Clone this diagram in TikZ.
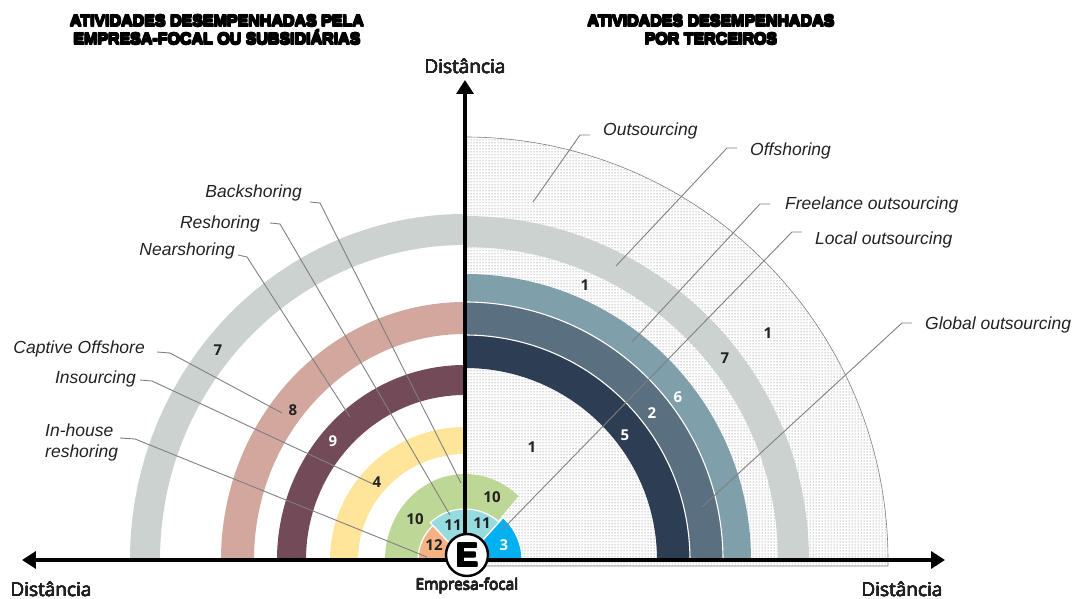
\documentclass[tikz,border=0pt]{standalone}
\usepackage{fontspec}
\setmainfont{Liberation Sans}
\newfontfamily\numfont{Open Sans}
\usetikzlibrary{arrows.meta,patterns}

\definecolor{cGray}{RGB}{204,210,207}
\definecolor{cRose}{RGB}{210,167,157}
\definecolor{cPlum}{RGB}{115,74,87}
\definecolor{cYellow}{RGB}{255,229,153}
\definecolor{cGreen}{RGB}{189,215,151}
\definecolor{cCyan}{RGB}{151,219,222}
\definecolor{cOrange}{RGB}{244,177,131}
\definecolor{cBlue}{RGB}{0,176,240}
\definecolor{cNavy}{RGB}{45,62,84}
\definecolor{cSlate}{RGB}{90,111,127}
\definecolor{cSteel}{RGB}{127,159,170}
\definecolor{cLead}{RGB}{128,128,128}
\definecolor{cText}{RGB}{34,34,34}

% heavier strokes: overlay shifted copies of the text
\newcommand\heavy[2]{\leavevmode
  \rlap{\kern#1\relax#2}\rlap{\kern-#1\relax#2}%
  \rlap{\raisebox{#1}{#2}}\rlap{\raisebox{-#1}{#2}}%
  \rlap{\kern#1\relax\raisebox{#1}{#2}}\rlap{\kern-#1\relax\raisebox{-#1}{#2}}%
  \rlap{\kern#1\relax\raisebox{-#1}{#2}}\rlap{\kern-#1\relax\raisebox{#1}{#2}}#2}

% band: colour, start angle, end angle, inner x/y radius, outer x/y radius
\newcommand\band[7]{%
  \fill[#1] (#2:#6 and #7) arc[start angle=#2, end angle=#3, x radius=#6, y radius=#7]
    -- (#3:#4 and #5) arc[start angle=#3, end angle=#2, x radius=#4, y radius=#5] -- cycle;}

\begin{document}
\begin{tikzpicture}[x=1pt,y=1pt,
  tag/.style={font=\numfont\bfseries\fontsize{15}{15}\selectfont, text=cText, inner sep=0},
  tagw/.style={tag, text=white},
  lbl/.style={font=\itshape\fontsize{17.5}{21}\selectfont, text=cText, inner sep=0},
  leader/.style={draw=cLead, line width=0.9pt},
  axis/.style={line width=4.3pt, -{Triangle[length=14pt,width=17pt]}},
  sector/.style={draw=white, line width=1.2pt},
  title/.style={font=\bfseries\fontsize{16}{18}\selectfont, align=center, inner sep=0},
  dist/.style={font=\numfont\fontsize{19}{22}\selectfont, text=cText, inner sep=0}]
\useasboundingbox (-465,-39) rectangle (615,560);

% dotted quarter disc of third-party activities
\path[pattern=dots, pattern color=black!60] (0,-6) -- (423,-6) -- (423,0)
  arc[start angle=0, end angle=90, radius=423] -- cycle;
\draw[gray, line width=0.6pt] (0,423) arc[start angle=90, end angle=0, radius=423] -- (423,-6) -- (0,-6);

% right-hand bands
\band{cGray}{0}{90}{313}{313}{344}{344}
\band{cNavy}{0}{90}{192}{192}{225}{225}
\band{cSlate}{0}{90}{225}{225}{258}{258}
\band{cSteel}{0}{90}{258}{258}{286}{286}
\draw[white, line width=1.1pt] (225,0) arc[start angle=0, end angle=90, radius=225];
\draw[white, line width=1.1pt] (258,0) arc[start angle=0, end angle=90, radius=258];

% left-hand bands
\band{cGray}{90}{180}{305}{315}{335}{346}
\band{cRose}{90}{180}{211}{226}{244}{258}
\band{cPlum}{90}{180}{159}{165}{188}{195}
\band{cYellow}{90}{180}{107}{106}{135}{133}

% inner sectors around the focal company
\fill[cGreen] (0,0) -- (48:80 and 86) arc[start angle=48, end angle=180, x radius=80, y radius=86] -- cycle;
\filldraw[sector, fill=cCyan] (0,0) -- (48:51) arc[start angle=48, end angle=133, radius=51] -- cycle;
\filldraw[sector, fill=cOrange] (0,0) -- (133:47) arc[start angle=133, end angle=180, radius=47] -- cycle;
\filldraw[sector, fill=cBlue] (0,0) -- (0:57) arc[start angle=0, end angle=48, radius=57] -- cycle;

% band numbers
\node[tag] (n1a) at (120,275) {1};
\node[tag] (n1b) at (303,227) {1};
\node[tag] (n1c) at (67,113) {1};
\node[tag] (n7r) at (260,202) {7};
\node[tagw] (n6) at (213,163) {6};
\node[tagw] (n2) at (187,147) {2};
\node[tagw] (n5) at (160,125) {5};
\node[tag] (n7l) at (-247,210) {7};
\node[tag] (n8) at (-172,150) {8};
\node[tagw] (n9) at (-132,119) {9};
\node[tag] (n4) at (-88,78) {4};
\node[tag] (n10l) at (-50,41) {10};
\node[tag] (n10r) at (27,63) {10};
\node[tag] (n11l) at (-12,35) {11};
\node[tag] (n11r) at (17,37) {11};
\node[tag] (n12) at (-31,15) {12};
\node[tagw] (n3) at (39,15) {3};

% right-hand labels
\node[lbl, anchor=west] (lOut) at (138,429) {Outsourcing};
\node[lbl, anchor=west] (lOff) at (285,409) {Offshoring};
\node[lbl, anchor=west] (lFree) at (320,355) {Freelance outsourcing};
\node[lbl, anchor=west] (lLoc) at (350,320) {Local outsourcing};
\node[lbl, anchor=west] (lGlob) at (460,235) {Global outsourcing};

% left-hand labels
\node[lbl, anchor=east] (lBack) at (-163,367) {Backshoring};
\node[lbl, anchor=east] (lRes) at (-205,336) {Reshoring};
\node[lbl, anchor=east] (lNear) at (-230,309) {Nearshoring};
\node[lbl, anchor=east] (lCapt) at (-320,211) {Captive Offshore};
\node[lbl, anchor=east] (lIns) at (-329,181) {Insourcing};
\node[lbl, anchor=west, align=left] (lInh) at (-420,118) {In-house\\reshoring};

% leader start and end points
\coordinate (sOut) at (125,425);  \coordinate (eOut) at (68,358);
\coordinate (sOff) at (272,412);  \coordinate (eOff) at (151,294);
\coordinate (sFree) at (305,356); \coordinate (eFree) at (167,218);
\coordinate (sLoc) at (337,328);  \coordinate (eLoc) at (37,30);
\coordinate (sGlob) at (447,237); \coordinate (eGlob) at (237,53);
\coordinate (sBack) at (-155,358); \coordinate (eBack) at (-4,77);
\coordinate (sRes) at (-195,337);  \coordinate (eRes) at (-15,45);
\coordinate (sNear) at (-227,305); \coordinate (eNear) at (-115,143);
\coordinate (sCapt) at (-308,208); \coordinate (eCapt) at (-183,147);
\coordinate (sIns) at (-325,180);  \coordinate (eIns) at (-92,76);
\coordinate (sInh) at (-345,122);  \coordinate (eInh) at (-38,3);

\draw[leader] (sOut) -- ++(-10,0) -- (eOut);
\draw[leader] (sOff) -- ++(-10,0) -- (eOff);
\draw[leader] (sFree) -- ++(-10,0) -- (eFree);
\draw[leader] (sLoc) -- ++(-10,0) -- (eLoc);
\draw[leader] (sGlob) -- ++(-10,0) -- (eGlob);
\draw[leader] (sBack) -- ++(10,-1) -- (eBack);
\draw[leader] (sRes) -- ++(10,-1) -- (eRes);
\draw[leader] (sNear) -- ++(9,-2) -- (eNear);
\draw[leader] (sCapt) -- ++(13,-1) -- (eCapt);
\draw[leader] (sIns) -- ++(12,-1) -- (eIns);
\draw[leader] (sInh) -- ++(15,-1) -- (eInh);

% axes
\coordinate (O) at (0,0);
\coordinate (tipL) at (-443,0);
\coordinate (tipR) at (480,0);
\coordinate (tipU) at (0,480);
\draw[axis] (O) -- (tipL);
\draw[axis] (O) -- (tipR);
\draw[axis] (O) -- (tipU);

% focal company
\node[circle, fill=white, draw=black, line width=2.4pt, minimum size=42pt, inner sep=0,
      font=\bfseries\fontsize{33}{33}\selectfont] (E) at (2,5) {\heavy{0.9pt}{E}};

% axis and column captions
\node[dist] (dU) at (0,494) {\heavy{0.15pt}{Distância}};
\node[dist] (dL) at (-414,-29) {\heavy{0.15pt}{Distância}};
\node[dist] (dR) at (437,-29) {\heavy{0.15pt}{Distância}};
\node[font=\numfont\fontsize{15.5}{17}\selectfont, text=cText, inner sep=0] (ef) at (2,-26) {\heavy{0.15pt}{Empresa-focal}};
\node[title] (tL) at (-248,530) {\heavy{0.6pt}{ATIVIDADES DESEMPENHADAS PELA}\\\heavy{0.6pt}{EMPRESA-FOCAL OU SUBSIDIÁRIAS}};
\node[title] (tR) at (246,530) {\heavy{0.6pt}{ATIVIDADES DESEMPENHADAS}\\\heavy{0.6pt}{POR TERCEIROS}};
\end{tikzpicture}
\end{document}
